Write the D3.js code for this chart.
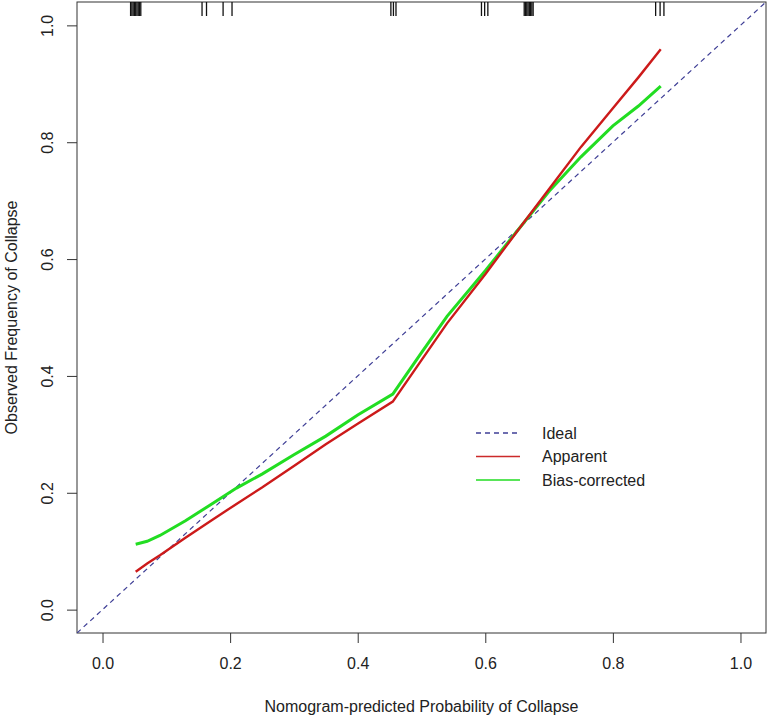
<!DOCTYPE html>
<html>
<head>
<meta charset="utf-8">
<script src="https://cdn.jsdelivr.net/npm/d3@7"></script>
<style>
  body { margin: 0; background: #fff; }
  svg text { font-family: "Liberation Sans", Arial, sans-serif; fill: #222; }
</style>
</head>
<body>
<script>
// predicted probabilities where the curves are read
var predicted = [0.052, 0.07, 0.09, 0.13, 0.17, 0.21, 0.25, 0.30, 0.35, 0.40, 0.455,
                 0.50, 0.54, 0.60, 0.655, 0.70, 0.75, 0.80, 0.84, 0.875];
var apparent  = [0.065, 0.079, 0.093, 0.123, 0.152, 0.181, 0.209, 0.246, 0.283, 0.318, 0.356,
                 0.427, 0.49, 0.574, 0.655, 0.72, 0.792, 0.858, 0.911, 0.959];
var biasCorrected = [0.112, 0.117, 0.127, 0.152, 0.18, 0.208, 0.232, 0.265, 0.297, 0.333, 0.369,
                     0.44, 0.502, 0.58, 0.655, 0.716, 0.775, 0.828, 0.862, 0.896];
// rug of predicted values along the top
var rug = [0.044, 0.046, 0.048, 0.05, 0.052, 0.054, 0.056, 0.058, 0.06,
           0.156, 0.163, 0.189, 0.203,
           0.452, 0.456, 0.46,
           0.594, 0.599, 0.604,
           0.661, 0.663, 0.665, 0.667, 0.669, 0.671, 0.673, 0.675,
           0.867, 0.874, 0.88];
var ticks = [0, 0.2, 0.4, 0.6, 0.8, 1.0];
var legendLabels = ["Ideal", "Apparent", "Bias-corrected"];

window.onload = function() {

  var w = 770, h = 715;
  var box = {left: 77, right: 766, top: 2, bottom: 633};

  var svg = d3.select("body").append("svg")
    .attr("width", w)
    .attr("height", h);

  // R style: 4% extension each side
  var x_scale = d3.scaleLinear().domain([-0.04, 1.04]).range([box.left, box.right]);
  var y_scale = d3.scaleLinear().domain([-0.04, 1.04]).range([box.bottom, box.top]);

  // plot frame
  svg.append("rect")
    .attr("x", box.left).attr("y", box.top)
    .attr("width", box.right - box.left)
    .attr("height", box.bottom - box.top)
    .attr("fill", "none").attr("stroke", "#333").attr("stroke-width", 1);

  // axes
  var xAxis = d3.axisBottom(x_scale).tickValues(ticks).tickFormat(d3.format(".1f"))
    .tickSizeOuter(0).tickSize(10).tickPadding(15);
  var gX = svg.append("g")
    .attr("transform", "translate(0," + box.bottom + ")")
    .call(xAxis);
  gX.select(".domain").attr("stroke", "none");
  gX.selectAll("line").attr("stroke", "#333");
  gX.selectAll("text").attr("font-size", 16).attr("fill", "#222");

  var yAxis = d3.axisLeft(y_scale).tickValues(ticks).tickFormat(d3.format(".1f"))
    .tickSizeOuter(0).tickSize(10);
  var gY = svg.append("g")
    .attr("transform", "translate(" + box.left + ",0)")
    .call(yAxis);
  gY.select(".domain").attr("stroke", "none");
  gY.selectAll("line").attr("stroke", "#333");
  gY.selectAll("text")
    .attr("font-size", 16).attr("fill", "#222")
    .attr("x", null)
    .attr("text-anchor", "middle")
    .attr("transform", "translate(-30,0) rotate(-90)")
    .attr("y", 0).attr("dy", "0.35em");

  // clip to the box
  svg.append("clipPath").attr("id", "clip")
    .append("rect")
    .attr("x", box.left).attr("y", box.top)
    .attr("width", box.right - box.left).attr("height", box.bottom - box.top);

  var plot = svg.append("g").attr("clip-path", "url(#clip)");

  // ideal line
  plot.append("line")
    .attr("x1", x_scale(-0.04)).attr("y1", y_scale(-0.04))
    .attr("x2", x_scale(1.04)).attr("y2", y_scale(1.04))
    .attr("stroke", "#3f3f96").attr("stroke-width", 1.2)
    .attr("stroke-dasharray", "5,4");

  var line = d3.line()
    .x(function(d) { return x_scale(d[0]); })
    .y(function(d) { return y_scale(d[1]); });

  var appData = predicted.map(function(p, i) { return [p, apparent[i]]; });
  var bcData = predicted.map(function(p, i) { return [p, biasCorrected[i]]; });

  plot.append("path")
    .attr("d", line(bcData))
    .attr("fill", "none").attr("stroke", "#22dd22").attr("stroke-width", 3);

  plot.append("path")
    .attr("d", line(appData))
    .attr("fill", "none").attr("stroke", "#cc1a1a").attr("stroke-width", 2.4);

  // rug along top
  plot.selectAll(".rug")
    .data(rug)
    .enter().append("line")
    .attr("class", "rug")
    .attr("x1", function(d) { return x_scale(d); })
    .attr("x2", function(d) { return x_scale(d); })
    .attr("y1", box.top).attr("y2", box.top + 14)
    .attr("stroke", "#111").attr("stroke-width", 1.3);

  // legend
  var legColors = ["#3f3f96", "#cc2a2a", "#22dd22"];
  var legDash = ["5,4", null, null];
  var leg = svg.append("g");
  legendLabels.forEach(function(lbl, i) {
    var yy = 433 + i * 23.5;
    leg.append("line")
      .attr("x1", 476).attr("x2", 520)
      .attr("y1", yy).attr("y2", yy)
      .attr("stroke", legColors[i]).attr("stroke-width", 1.3)
      .attr("stroke-dasharray", legDash[i]);
    leg.append("text")
      .attr("x", 542).attr("y", yy).attr("dy", "0.35em")
      .attr("font-size", 16)
      .text(lbl);
  });

  // titles
  svg.append("text")
    .attr("x", x_scale(0.5)).attr("y", 706)
    .attr("dy", "0.35em")
    .attr("text-anchor", "middle")
    .attr("font-size", 16)
    .text("Nomogram-predicted Probability of Collapse");

  svg.append("text")
    .attr("transform", "translate(11," + y_scale(0.5) + ") rotate(-90)")
    .attr("dy", "0.35em")
    .attr("text-anchor", "middle")
    .attr("font-size", 16)
    .text("Observed Frequency of Collapse");
};
</script>
</body>
</html>
